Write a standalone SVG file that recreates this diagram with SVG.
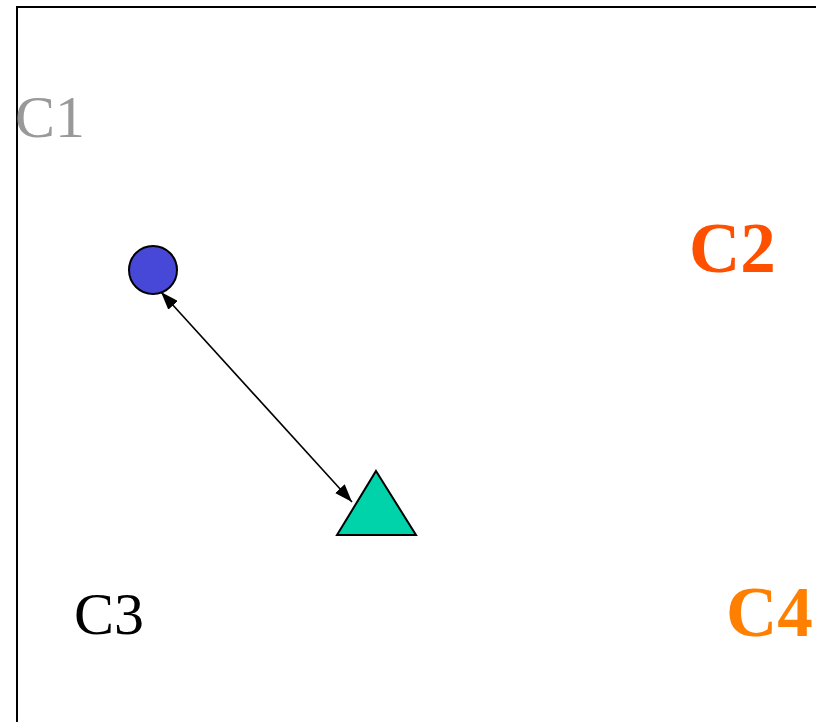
<svg xmlns="http://www.w3.org/2000/svg" width="816" height="722" viewBox="0 0 816 722">
  <style>
    .frame { fill: none; stroke: #000; stroke-width: 2; }
    .lbl { font-family: "Liberation Serif", "Times New Roman", serif; }
    .shape { stroke: #000; stroke-width: 2; }
    .link { stroke: #000; stroke-width: 1.6; fill: none; }
  </style>
  <defs>
    <marker id="head" viewBox="0 0 18 13" refX="18" refY="6.5" markerWidth="18" markerHeight="13" markerUnits="userSpaceOnUse" orient="auto-start-reverse">
      <path d="M0,0 L18,6.5 L0,13 z" fill="#000"/>
    </marker>
  </defs>
  <rect width="816" height="722" fill="#fff"/>
  <!-- open frame: top and left edges -->
  <path class="frame" d="M17,722 V7 H816"/>

  <g id="C1"><text class="lbl" x="15" y="137" font-size="60" fill="#999999">C1</text></g>
  <g id="C2"><text class="lbl" x="689" y="272" font-size="71" font-weight="bold" fill="#FF5000">C2</text></g>
  <g id="C3"><text class="lbl" x="74" y="634" font-size="60" fill="#000">C3</text></g>
  <g id="C4"><text class="lbl" x="726" y="636" font-size="71" font-weight="bold" fill="#FF8000">C4</text></g>

  <g id="circle"><circle class="shape" cx="153" cy="270" r="24" fill="#4848D8"/></g>
  <g id="triangle"><polygon class="shape" points="376,471 416,535 337,535" fill="#00D2AA"/></g>

  <g id="connectors">
    <line class="link" x1="161" y1="292" x2="352" y2="502" marker-start="url(#head)" marker-end="url(#head)"/>
  </g>
</svg>
